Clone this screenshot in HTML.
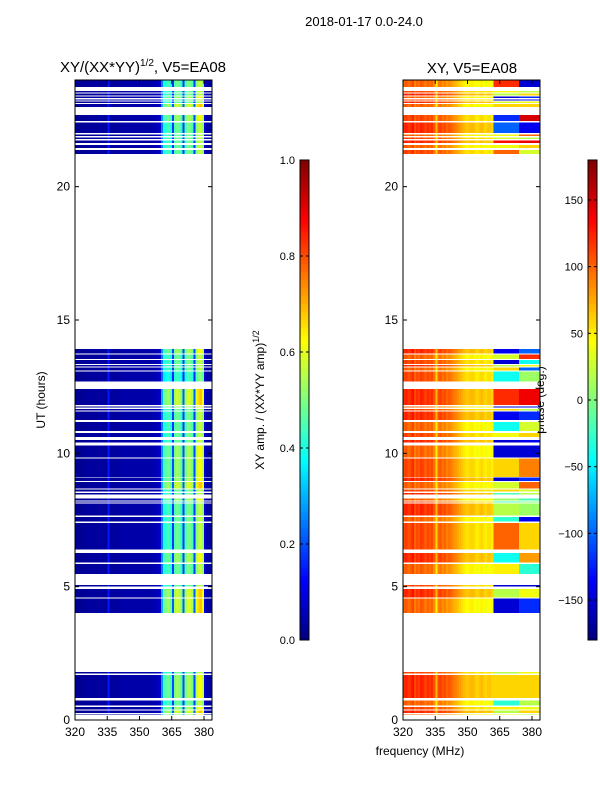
<!DOCTYPE html>
<html><head><meta charset="utf-8"><style>
body{margin:0;background:#fff;}
svg text{font-family:"Liberation Sans",sans-serif;fill:#000;}
#left rect,#right rect,.cb{shape-rendering:crispEdges;}
</style></head><body>
<svg id="fig" width="600" height="800" xmlns="http://www.w3.org/2000/svg">
<rect width="600" height="800" fill="#fff"/>
<text x="364" y="26" font-size="13" text-anchor="middle">2018-01-17 0.0-24.0</text>
<text x="143" y="72" font-size="15" text-anchor="middle">XY/(XX*YY)<tspan dy="-6" font-size="10">1/2</tspan><tspan dy="6">, V5=EA08</tspan></text>
<text x="472" y="73" font-size="15" text-anchor="middle">XY, V5=EA08</text>
<text x="420" y="755" font-size="12" text-anchor="middle">frequency (MHz)</text>
<text transform="translate(45,400) rotate(-90)" font-size="12" text-anchor="middle">UT (hours)</text>
<text transform="translate(264,400) rotate(-90)" font-size="12" text-anchor="middle">XY amp. / (XX*YY amp)<tspan dy="-5" font-size="9">1/2</tspan></text>
<text transform="translate(544,400) rotate(-90)" font-size="12" text-anchor="middle">phase (deg.)</text>
<g id="left"></g>
<g id="right"></g>
<g id="axes"></g>
</svg>
<script>
const freqs=[];for(let f=320;f<384;f++)freqs.push(f);
const amp=[0.02,0.02,0.02,0.02,0.02,0.03,0.03,0.03,0.03,0.03,0.03,0.03,0.03,0.03,0.03,0.15,0.03,0.03,0.03,0.03,0.03,0.04,0.04,0.04,0.04,0.04,0.04,0.04,0.04,0.04,0.04,0.04,0.04,0.04,0.04,0.04,0.05,0.05,0.06,0.08,0.25,0.4,0.42,0.45,0.4,0.18,0.45,0.48,0.47,0.42,0.18,0.45,0.5,0.48,0.45,0.18,0.5,0.55,0.57,0.52,0.08,0.04,0.03,0.03];
const phaseLow=[110,115,105,110,120,100,110,105,115,110,100,110,105,110,95,60,100,105,95,100,90,95,90,85,80,75,70,65,60,55,55,60,60,55,50,55,60,55,50,55,55,50];
const segStart=[23.74,23.53,23.42,23.32,23.23,23.14,22.99,22.46,22.01,21.9,21.79,21.64,21.45,21.22,13.75,13.54,13.35,13.25,13.1,12.69,11.81,11.71,11.61,11.25,10.83,10.62,10.41,9.84,9.12,8.96,8.69,8.56,8.45,8.24,8.15,7.66,7.44,6.4,5.9,5.48,5.0,4.59,4.02,1.74,0.83,0.54,0.4,0.27,0.19];
const segEnd=[24.0,23.59,23.49,23.38,23.27,23.19,23.1,22.69,22.41,21.96,21.84,21.73,21.56,21.38,13.91,13.71,13.5,13.31,13.21,13.06,12.41,11.76,11.67,11.57,11.17,10.77,10.5,10.3,9.8,9.09,8.93,8.64,8.51,8.31,8.2,8.11,7.61,7.39,6.27,5.85,5.06,4.92,4.55,1.8,1.68,0.74,0.49,0.35,0.21];
const segAmpScale=[1,1,1,1.1,1,1,1.2,1.1,1,1,1,1,1,1,1.1,1,1,1,1,0.9,1.2,1.1,1,1,1,1,1,1.1,1.1,1.1,1.2,1,1,1.1,1,1,1,1,1.1,1,1,1.2,1.2,1,1.1,1,1.1,1.2,1.1];
const hiPhaseA=[120,40,20,-150,-150,30,60,-120,-100,40,30,130,40,100,-140,30,-150,20,60,-40,120,-150,60,-140,-40,40,-150,-150,60,-150,30,60,-20,10,-20,20,-30,100,-40,50,-150,20,-150,20,60,-30,50,20,40];
const hiPhaseB=[-150,20,60,-120,-130,40,60,150,-140,100,20,140,60,30,-100,120,-40,40,-100,10,140,-140,20,-120,30,60,-140,-150,90,-120,100,30,20,-20,0,10,-140,60,80,-30,-150,40,-120,40,60,20,40,60,20];
const ampTicks=[0.0,0.2,0.4,0.6,0.8,1.0];
const phaseTicks=[-150,-100,-50,0,50,100,150];
const xTicks=[320,335,350,365,380];
const yTicks=[0,5,10,15,20];

const NS="http://www.w3.org/2000/svg";
const Y0=720,Y1=80,H0=0,H1=24;
const yOf=h=>Y0-(h-H0)/(H1-H0)*(Y0-Y1);
const xL=f=>75+(f-320)*2.15, xR=f=>403+(f-320)*2.15;
function jet(t){t=Math.max(0,Math.min(1,t));
 const r=Math.max(0,Math.min(1,Math.min(4*t-1.5,-4*t+4.5)));
 const g=Math.max(0,Math.min(1,Math.min(4*t-0.5,-4*t+3.5)));
 const b=Math.max(0,Math.min(1,Math.min(4*t+0.5,-4*t+2.5)));
 return `rgb(${Math.round(r*255)},${Math.round(g*255)},${Math.round(b*255)})`;}
function mk(tag,at,parent){const e=document.createElementNS(NS,tag);for(const k in at)e.setAttribute(k,at[k]);parent.appendChild(e);return e;}
const L=document.getElementById('left'),R=document.getElementById('right'),A=document.getElementById('axes');
for(let s=0;s<segStart.length;s++){
 const y=yOf(segEnd[s]),h=yOf(segStart[s])-y;
 for(let i=0;i<freqs.length;i++){
  const f=freqs[i];
  const a=amp[i]*(f>=360&&f<380?segAmpScale[s]:1);
  const w=i===freqs.length-1?xL(384)-xL(f):2.6;
  const r1=mk('rect',{x:xL(f),y:y,width:w,height:h,fill:jet(a)},L);
  
  
  let p;
  if(i<phaseLow.length)p=phaseLow[i]+(s%3-1)*10;
  else if(f<374)p=hiPhaseA[s];else p=hiPhaseB[s];
  const r2=mk('rect',{x:xR(f),y:y,width:w,height:h,fill:jet((p+180)/360)},R);
  
  
 }
}
function axes(x0,name){
 const fr=mk('rect',{x:x0,y:80,width:137,height:640,fill:'none',stroke:'#000','stroke-width':1},A);
 
 
 yTicks.forEach(v=>{const y=yOf(v);
  mk('line',{x1:x0,x2:x0+4,y1:y,y2:y,stroke:'#000'},A);
  mk('line',{x1:x0+137,x2:x0+133,y1:y,y2:y,stroke:'#000'},A);
  const t=mk('text',{x:x0-5,y:y+4,'font-size':12,'text-anchor':'end'},A);t.textContent=v;
  
  });
 xTicks.forEach(v=>{const x=x0+(v-320)*2.15;
  mk('line',{x1:x,x2:x,y1:720,y2:716,stroke:'#000'},A);
  mk('line',{x1:x,x2:x,y1:80,y2:84,stroke:'#000'},A);
  const t=mk('text',{x:x,y:736,'font-size':12,'text-anchor':'middle'},A);t.textContent=v;
  
  });
}
axes(75,'left-axes');axes(403,'right-axes');
function cbar(x0,ticks,lo,hi,name,fmt){
 for(let i=0;i<120;i++){const t=i/120;
  mk('rect',{x:x0,y:640-(i+1)*4,width:9,height:4.3,fill:jet(t+1/240),class:'cb'},A);}
 const fr=mk('rect',{x:x0,y:160,width:9,height:480,fill:'none',stroke:'#000'},A);
 
 
 ticks.forEach(v=>{const y=640-(v-lo)/(hi-lo)*480;
  mk('line',{x1:x0,x2:x0+3,y1:y,y2:y,stroke:'#000'},A);
  mk('line',{x1:x0+9,x2:x0+6,y1:y,y2:y,stroke:'#000'},A);
  const t=mk('text',{x:x0-5,y:y+4,'font-size':11,'text-anchor':'end'},A);t.textContent=fmt(v);
  
  });
}
cbar(300,ampTicks,0,1,'amp-colorbar',v=>v.toFixed(1));
cbar(588,phaseTicks,-180,180,'phase-colorbar',v=>v<0?'\u2212'+(-v):''+v);
</script>
</body></html>
